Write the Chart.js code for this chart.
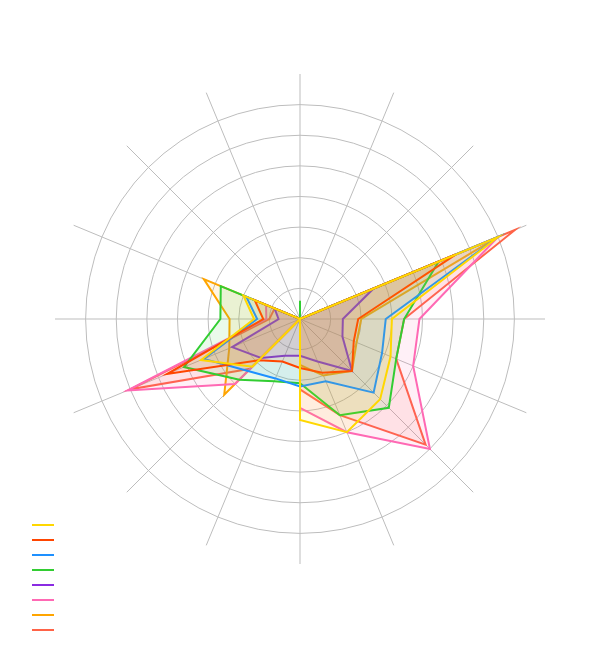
<!DOCTYPE html>
<html>
<head>
<meta charset="utf-8">
<title>Radar</title>
<script src="https://cdn.jsdelivr.net/npm/chart.js@4.4.1/dist/chart.umd.min.js"></script>
<style>
  html, body { margin: 0; padding: 0; background: #fff; }
  #wrap { width: 600px; height: 648px; position: relative; }
</style>
</head>
<body>
<div id="wrap"><canvas id="myChart"></canvas></div>
<script>
// 16 spokes, clockwise from the top (no visible names in the picture)
const categories = ['', '', '', '', '', '', '', '', '', '', '', '', '', '', '', ''];

const seriesNames = ['', '', '', '', '', '', '', ''];
const seriesColors = ['#FFD700', '#FF4500', '#1E90FF', '#32CD32', '#8A2BE2', '#FF69B4', '#FFA500', '#FF6347'];

const yellowValues    = [0, 0, 0, 70, 30, 32, 37, 40, 33, 0, 22, 35, 15, 20, 0, 0];
const orangeRedValues = [0, 0, 0, 55, 19, 19, 24, 19, 16, 15, 19, 47, 12, 16, 0, 0];
const blueValues      = [0, 0, 0, 70, 28, 29, 34, 22, 22, 21, 24, 34, 14, 19, 0, 0];
const greenValues     = [6, 0, 0, 49, 34, 34, 41, 34, 21, 22, 28, 41, 26, 28, 0, 0];
const purpleValues    = [0, 0, 0, 26, 14, 15, 24, 15, 12, 13, 18, 24, 7, 9, 0, 0];
const pinkValues      = [0, 0, 0, 70, 39, 40, 60, 40, 29, 0, 30, 61, 11, 12, 0, 0];
const orangeValues    = [0, 0, 0, 70, 20, 20, 24, 20, 15, 0, 35, 25, 23, 34, 0, 0];
const tomatoValues    = [0, 0, 0, 76, 34, 34, 58, 34, 23, 0, 23, 60, 10, 9, 0, 0];

const scaleMax = 80;
const scaleStep = 10;

const allValues = [yellowValues, orangeRedValues, blueValues, greenValues,
                   purpleValues, pinkValues, orangeValues, tomatoValues];

function fade(hex, a) {
    let n = parseInt(hex.slice(1), 16);
    return `rgba(${(n >> 16) & 255}, ${(n >> 8) & 255}, ${n & 255}, ${a})`;
}

let datasets = allValues.map((vals, i) => ({
    label: seriesNames[i],
    data: vals,
    borderColor: seriesColors[i],
    backgroundColor: fade(seriesColors[i], 0.1),
    borderWidth: 2,
    pointRadius: 0,
    pointHoverRadius: 0,
    fill: true,
    tension: 0
}));

var ctx = document.getElementById('myChart').getContext('2d');
var chart = new Chart(ctx, {
    type: 'radar',
    data: {
        labels: categories,
        datasets: datasets
    },
    options: {
        responsive: true,
        maintainAspectRatio: false,
        animation: false,
        layout: {
            padding: { left: 29, right: 55, top: -5, bottom: 9 }
        },
        plugins: {
            legend: {
                position: 'left',
                align: 'end',
                maxWidth: 26,
                labels: {
                    usePointStyle: true,
                    pointStyle: 'line',
                    pointStyleWidth: 22,
                    padding: 3,
                    font: { size: 12 },
                    color: '#666'
                }
            },
            tooltip: { enabled: false }
        },
        scales: {
            r: {
                min: 0,
                max: scaleMax,
                ticks: { stepSize: scaleStep, display: false },
                pointLabels: { display: false },
                angleLines: { color: '#bdbdbd', lineWidth: 1 },
                grid: {
                    circular: true,
                    color: '#bdbdbd',
                    // the outermost ring is not drawn, spokes run past the last circle
                    lineWidth: c => (c.tick && c.tick.value >= scaleMax) ? 0 : 1
                }
            }
        }
    }
});
</script>
</body>
</html>
